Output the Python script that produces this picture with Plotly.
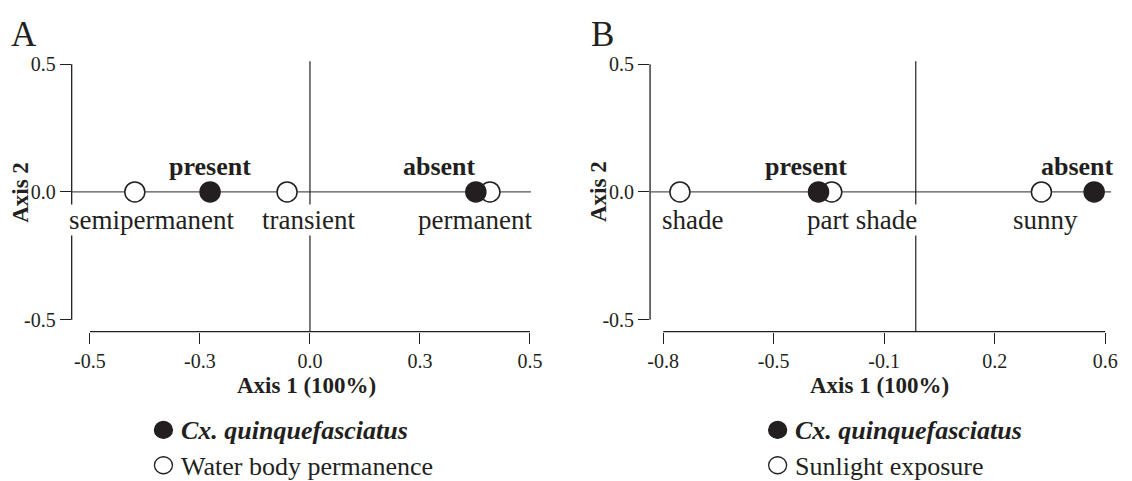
import plotly.graph_objects as go

# ---------------- data ----------------
# Panel A: water body permanence
a_species_labels = ["present", "absent"]
a_species_x = [-0.227, 0.377]
a_species_y = [0.0, 0.0]
a_env_labels = ["semipermanent", "transient", "permanent"]
a_env_x = [-0.398, -0.052, 0.409]
a_env_y = [0.0, 0.0, 0.0]

# Panel B: sunlight exposure
b_species_labels = ["present", "absent"]
b_species_x = [-0.308, 0.565]
b_species_y = [0.0, 0.0]
b_env_labels = ["shade", "part shade", "sunny"]
b_env_x = [-0.747, -0.266, 0.398]
b_env_y = [0.0, 0.0, 0.0]

a_xtickvals = [-0.5, -0.25, 0.0, 0.25, 0.5]
a_xticktext = ["-0.5", "-0.3", "0.0", "0.3", "0.5"]
b_xtickvals = [-0.8, -0.45, -0.1, 0.25, 0.6]
b_xticktext = ["-0.8", "-0.5", "-0.1", "0.2", "0.6"]
ytickvals = [-0.5, 0.0, 0.5]
yticktext = ["-0.5", "0.0", "0.5"]

legend_species = "Cx. quinquefasciatus"
legend_a_env = "Water body permanence"
legend_b_env = "Sunlight exposure"

# ---------------- layout helpers ----------------
PAGE_W, PAGE_H = 1132, 481
OX, OY = 8, 8                      # default body margin of the html page
W, H = PAGE_W - OX, PAGE_H - OY
FONT = "Liberation Serif"
DARK = "#231f20"
LINE = "#555555"


def px_x(p):
    return (p - OX) / W


def px_y(p):
    return 1 - (p - OY) / H


top_px, bot_px = 54, 329
a_left, a_right = 69.5, 535
b_left, b_right = 655.7, 1123

# y scale: 260 px per unit, 0.5 at y=57
y_lo = -0.5 - (bot_px - 317) / 260
y_hi = 0.5 + (57 - top_px) / 260
# x scales
a_lo = -0.5 - (88 - a_left) / 446
a_hi = a_lo + (a_right - a_left) / 446
b_lo = -0.8 - (669 - b_left) / 320
b_hi = b_lo + (b_right - b_left) / 320

fig = go.Figure()

open_marker = dict(symbol="circle", size=20, color="white", line=dict(color=DARK, width=1.5))
fill_marker = dict(symbol="circle", size=20, color=DARK, line=dict(color=DARK, width=1.5))

fig.add_trace(go.Scatter(x=a_env_x, y=a_env_y, mode="markers", marker=open_marker,
                         xaxis="x", yaxis="y", showlegend=False, hoverinfo="skip"))
fig.add_trace(go.Scatter(x=a_species_x, y=a_species_y, mode="markers", marker=fill_marker,
                         xaxis="x", yaxis="y", showlegend=False, hoverinfo="skip"))
fig.add_trace(go.Scatter(x=b_env_x, y=b_env_y, mode="markers", marker=open_marker,
                         xaxis="x2", yaxis="y2", showlegend=False, hoverinfo="skip"))
fig.add_trace(go.Scatter(x=b_species_x, y=b_species_y, mode="markers", marker=fill_marker,
                         xaxis="x2", yaxis="y2", showlegend=False, hoverinfo="skip"))

tickfont = dict(family=FONT, size=20, color=DARK)
titlefont = dict(family=FONT, size=23, color=DARK)

common_x = dict(showgrid=False, zeroline=False, showline=False, ticks="outside", ticklen=11,
                tickwidth=1.3, tickcolor=DARK, tickfont=tickfont, fixedrange=True)
common_y = dict(showgrid=False, zeroline=False, showline=False, ticks="outside", ticklen=11,
                tickwidth=1.3, tickcolor=DARK, tickfont=tickfont, tickvals=ytickvals,
                ticktext=yticktext, range=[y_lo, y_hi], fixedrange=True,
                domain=[px_y(bot_px), px_y(top_px)])

fig.update_layout(
    width=W, height=H,
    margin=dict(l=0, r=0, t=0, b=0),
    paper_bgcolor="white", plot_bgcolor="white",
    font=dict(family=FONT, color=DARK),
    xaxis=dict(common_x, domain=[px_x(a_left), px_x(a_right)], range=[a_lo, a_hi],
               tickvals=a_xtickvals, ticktext=a_xticktext, anchor="y"),
    yaxis=dict(common_y, anchor="x"),
    xaxis2=dict(common_x, domain=[px_x(b_left), px_x(b_right)], range=[b_lo, b_hi],
                tickvals=b_xtickvals, ticktext=b_xticktext, anchor="y2"),
    yaxis2=dict(common_y, anchor="x2"),
    showlegend=False,
)

shapes = []
ann = []
for xr, yr, xlo, xhi in (("x", "y", -0.5, 0.5), ("x2", "y2", -0.8, 0.6)):
    shapes.append(dict(type="line", xref=xr, yref=f"{yr} domain", x0=xlo, x1=xhi, y0=0, y1=0,
                       line=dict(color=DARK, width=1.3), layer="below"))
    shapes.append(dict(type="line", xref=f"{xr} domain", yref=yr, x0=0, x1=0, y0=-0.5, y1=0.5,
                       line=dict(color=DARK, width=1.3), layer="below"))
    shapes.append(dict(type="line", xref=f"{xr} domain", yref=yr, x0=0, x1=1, y0=0, y1=0,
                       line=dict(color=LINE, width=1.3), layer="below"))
    shapes.append(dict(type="line", xref=xr, yref=f"{yr} domain", x0=0, x1=0, y0=0, y1=1,
                       line=dict(color=DARK, width=1.2), layer="below"))

lab_font = dict(family=FONT, size=27, color=DARK)
bold_font = dict(family=FONT, size=26, color=DARK)


def point_labels(xr, yr, xs, ys, labels, shifts, bold, yshift):
    for x, y, t, s in zip(xs, ys, labels, shifts):
        a = dict(xref=xr, yref=yr, x=x, y=y, text=f"<b>{t}</b>" if bold else t,
                 showarrow=False, xshift=s, yshift=yshift, xanchor="center",
                 yanchor="middle", font=bold_font if bold else lab_font)
        if not bold:
            a.update(bgcolor="white", borderpad=0)
        ann.append(a)


point_labels("x", "y", a_species_x, a_species_y, a_species_labels, [0, -36], True, 25)
point_labels("x", "y", a_env_x, a_env_y, a_env_labels, [17, 21, -15], False, -28)
point_labels("x2", "y2", b_species_x, b_species_y, b_species_labels, [-13, -17], True, 25)
point_labels("x2", "y2", b_env_x, b_env_y, b_env_labels, [13, 30, 4], False, -28)

for cx in (308, 888):
    ann.append(dict(xref="paper", yref="paper", x=px_x(cx), y=px_y(384), text="<b>Axis 1 (100%)</b>",
                    showarrow=False, xanchor="center", yanchor="middle", font=titlefont))
for cx in (18, 604):
    ann.append(dict(xref="paper", yref="paper", x=px_x(cx), y=px_y(187), text="<b>Axis 2</b>",
                    showarrow=False, xanchor="center", yanchor="middle", textangle=-90, font=titlefont))

ann.append(dict(xref="paper", yref="paper", x=px_x(6), y=px_y(27), text="A", showarrow=False,
                xanchor="left", yanchor="middle", font=dict(family=FONT, size=35, color=DARK)))
ann.append(dict(xref="paper", yref="paper", x=px_x(594), y=px_y(27), text="B", showarrow=False,
                xanchor="left", yanchor="middle", font=dict(family=FONT, size=35, color=DARK)))

leg_font = dict(family=FONT, size=26, color=DARK)
for cx, env_name in ((162.5, legend_a_env), (785, legend_b_env)):
    for cy, filled, text in ((429, True, f"<b><i>{legend_species}</i></b>"), (465, False, env_name)):
        shapes.append(dict(type="circle", xref="paper", yref="paper", xsizemode="pixel",
                           ysizemode="pixel", xanchor=px_x(cx), yanchor=px_y(cy),
                           x0=-9, x1=9, y0=-8.5, y1=8.5,
                           fillcolor=DARK if filled else "white",
                           line=dict(color=DARK, width=1.3)))
        ann.append(dict(xref="paper", yref="paper", x=px_x(cx + 16), y=px_y(cy + 1), text=text,
                        showarrow=False, xanchor="left", yanchor="middle", font=leg_font))

fig.update_layout(shapes=shapes, annotations=ann)
fig.write_html("out.html")
